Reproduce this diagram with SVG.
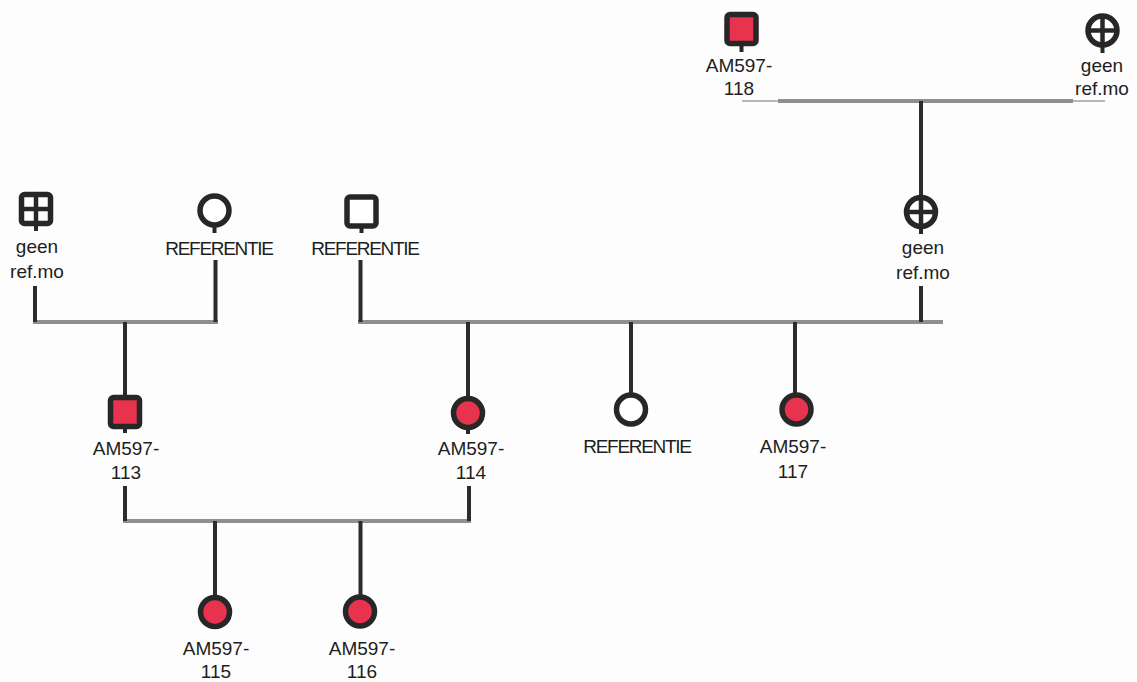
<svg xmlns="http://www.w3.org/2000/svg" width="1137" height="682" viewBox="0 0 1137 682">
<style>
.sym{stroke:#272727;stroke-width:5.5;fill:#fff}
.aff{fill:#e8334f}
.x{stroke:#272727;stroke-width:4.5;fill:none}
.stub{stroke:#272727;stroke-width:4}
.v{stroke:#2c2c2c;stroke-width:4;fill:none}
.h{stroke:#8f8f8f;stroke-width:4;fill:none}
.hs{stroke:#a0a0a0;stroke-width:1.5;fill:none}
.t{font-family:"Liberation Sans",Arial,sans-serif;font-size:19px;fill:#1e1e1e;text-anchor:middle}
.r{letter-spacing:-1.3px}
</style>
<rect width="1137" height="682" fill="#fdfdfd"/>
<g id="connectors">
<line class="h" x1="33" y1="322" x2="218" y2="322"/>
<line class="h" x1="358" y1="322" x2="943" y2="322"/>
<line class="h" x1="123" y1="521" x2="471" y2="521"/>
<line class="h" x1="778" y1="101" x2="1073" y2="101"/>
<line class="hs" x1="742" y1="101" x2="778" y2="101"/>
<line class="hs" x1="1073" y1="101" x2="1105" y2="101"/>
<line class="v" x1="35" y1="286" x2="35" y2="322"/>
<line class="v" x1="215.5" y1="260" x2="215.5" y2="322"/>
<line class="v" x1="360.5" y1="260" x2="360.5" y2="322"/>
<line class="v" x1="921" y1="286" x2="921" y2="322"/>
<line class="v" x1="125" y1="322" x2="125" y2="396"/>
<line class="v" x1="468" y1="322" x2="468" y2="397"/>
<line class="v" x1="631" y1="322" x2="631" y2="393"/>
<line class="v" x1="795" y1="322" x2="795" y2="393"/>
<line class="v" x1="125" y1="486" x2="125" y2="521"/>
<line class="v" x1="469" y1="486" x2="469" y2="521"/>
<line class="v" x1="215" y1="521" x2="215" y2="596"/>
<line class="v" x1="360.5" y1="521" x2="360.5" y2="595"/>
<line class="v" x1="921" y1="101" x2="921" y2="196"/>
</g>
<g id="n_geen_left">
<line class="stub" x1="36" y1="222" x2="36" y2="231"/>
<rect class="sym" x="21.5" y="194.5" width="29" height="29" rx="3"/>
<line class="x" x1="36" y1="195" x2="36" y2="223"/>
<line class="x" x1="22" y1="209" x2="50" y2="209"/>
<text class="t" x="37" y="253">geen</text>
<text class="t" x="37" y="278">ref.mo</text>
</g>
<g id="n_ref_f1">
<line class="stub" x1="214.5" y1="225" x2="214.5" y2="233"/>
<circle class="sym" cx="214.5" cy="210.5" r="14.5"/>
<text class="t r" x="219" y="255">REFERENTIE</text>
</g>
<g id="n_ref_m1">
<line class="stub" x1="361.5" y1="225" x2="361.5" y2="233"/>
<rect class="sym" x="347" y="197" width="29" height="29" rx="3"/>
<text class="t r" x="365" y="255">REFERENTIE</text>
</g>
<g id="n_geen_right">
<line class="stub" x1="921" y1="226" x2="921" y2="234"/>
<circle class="sym" cx="921" cy="212" r="14.5"/>
<line class="x" x1="921" y1="197" x2="921" y2="227"/>
<line class="x" x1="906" y1="212" x2="936" y2="212"/>
<text class="t" x="923" y="254">geen</text>
<text class="t" x="923" y="279">ref.mo</text>
</g>
<g id="n_118">
<line class="stub" x1="741.5" y1="43" x2="741.5" y2="52"/>
<rect class="sym aff" x="727" y="14.5" width="29" height="29" rx="3"/>
<text class="t" x="739" y="72">AM597-</text>
<text class="t" x="739" y="95">118</text>
</g>
<g id="n_geen_top">
<line class="stub" x1="1102.5" y1="45" x2="1102.5" y2="53"/>
<circle class="sym" cx="1102.5" cy="30.5" r="14.5"/>
<line class="x" x1="1102.5" y1="15.5" x2="1102.5" y2="45.5"/>
<line class="x" x1="1087.5" y1="30.5" x2="1117.5" y2="30.5"/>
<text class="t" x="1102" y="72">geen</text>
<text class="t" x="1102" y="95">ref.mo</text>
</g>
<g id="n_113">
<line class="stub" x1="125" y1="426" x2="125" y2="433"/>
<rect class="sym aff" x="110.5" y="397.5" width="29" height="29" rx="3"/>
<text class="t" x="126" y="455">AM597-</text>
<text class="t" x="126" y="479">113</text>
</g>
<g id="n_114">
<line class="stub" x1="468" y1="427" x2="468" y2="434"/>
<circle class="sym aff" cx="468" cy="413" r="14.5"/>
<text class="t" x="471" y="455">AM597-</text>
<text class="t" x="471" y="479">114</text>
</g>
<g id="n_ref_f2">
<circle class="sym" cx="631" cy="409.5" r="14.5"/>
<text class="t r" x="637" y="453">REFERENTIE</text>
</g>
<g id="n_117">
<circle class="sym aff" cx="796.5" cy="409.5" r="14.5"/>
<text class="t" x="793" y="453">AM597-</text>
<text class="t" x="793" y="478">117</text>
</g>
<g id="n_115">
<circle class="sym aff" cx="215" cy="612" r="14.5"/>
<text class="t" x="216" y="655">AM597-</text>
<text class="t" x="216" y="678">115</text>
</g>
<g id="n_116">
<circle class="sym aff" cx="360" cy="611.5" r="14.5"/>
<text class="t" x="362" y="655">AM597-</text>
<text class="t" x="362" y="678">116</text>
</g>
</svg>
